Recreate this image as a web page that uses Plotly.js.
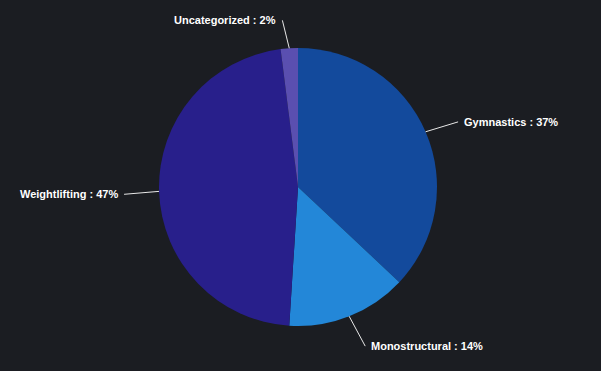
<!DOCTYPE html>
<html>
<head>
<meta charset="utf-8">
<script src="https://cdn.plot.ly/plotly-3.0.1.min.js"></script>
<style>
html,body{margin:0;padding:0;background:#1b1d22;}
#chart{width:601px;height:371px;}
</style>
</head>
<body>
<div id="chart"></div>
<script>
var categories = ["Gymnastics", "Monostructural", "Weightlifting", "Uncategorized"];
var values = [37, 14, 47, 2];
var colors = ["#134a9c", "#2387d8", "#281f8b", "#5a4fb0"];

var W = 601, H = 371;
var margin = {l: 0, r: 5, t: 48, b: 45};
var pw = W - margin.l - margin.r, ph = H - margin.t - margin.b;
var R = Math.min(pw, ph) / 2;
var cx = margin.l + pw / 2, cy = margin.t + ph / 2;
var dist = 30, pad = 10, gap = 5;

var total = values.reduce(function(a, b){ return a + b; }, 0);
var annotations = [];
var cum = 0;
for (var i = 0; i < values.length; i++) {
  var mid = (cum + values[i] / 2) / total * 2 * Math.PI;
  cum += values[i];
  var ex = cx + R * Math.sin(mid), ey = cy - R * Math.cos(mid);
  var ly = cy - (R + dist) * Math.cos(mid);
  var dy = ly - cy;
  var left = Math.sin(mid) < 0;
  var hx = Math.sqrt(Math.max(0, (R + dist) * (R + dist) - dy * dy));
  var lx = cx + (left ? -1 : 1) * (hx + pad);
  var tx = lx + (left ? gap : -gap);
  annotations.push({
    xref: "paper", yref: "paper",
    x: (ex - margin.l) / pw, y: 1 - (ey - margin.t) / ph,
    ax: tx - ex, ay: ly + 2 - ey,
    axref: "pixel", ayref: "pixel",
    text: "<b>" + categories[i] + " : " + Math.round(values[i] / total * 100) + "%</b>",
    showarrow: true, arrowhead: 0, arrowwidth: 1, arrowcolor: "#e8e8e8",
    standoff: 0, startstandoff: 0,
    xanchor: left ? "right" : "left", yanchor: "middle",
    borderpad: gap,
    font: {family: "Liberation Sans, Arial, sans-serif", size: 11, color: "#ffffff"}
  });
}

var data = [{
  type: "pie",
  labels: categories,
  values: values,
  sort: false,
  direction: "clockwise",
  rotation: 0,
  marker: {colors: colors, line: {width: 0}},
  textinfo: "none",
  hoverinfo: "label+percent",
  showlegend: false
}];

var layout = {
  width: W, height: H,
  margin: margin,
  paper_bgcolor: "#1b1d22",
  plot_bgcolor: "#1b1d22",
  showlegend: false,
  annotations: annotations
};

Plotly.newPlot("chart", data, layout, {displayModeBar: false, staticPlot: true});
</script>
</body>
</html>
